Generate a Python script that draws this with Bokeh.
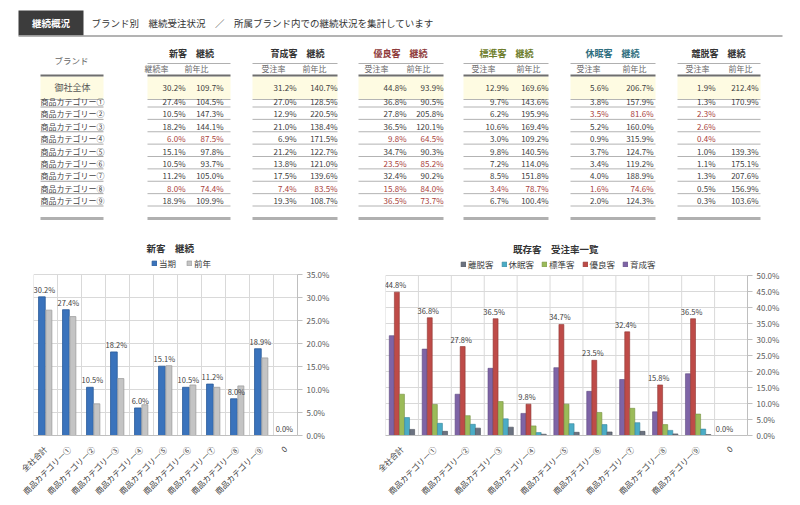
import math
from bokeh.plotting import figure
from bokeh.models import (ColumnDataSource, FactorRange, Range1d, FixedTicker,
                          NumeralTickFormatter, Legend, LegendItem, Label)
from bokeh.transform import dodge
from bokeh.layouts import column, row
from bokeh.embed import file_html
from bokeh.resources import INLINE
from bokeh.core.properties import value

FONT = "Noto Sans CJK JP"

# ---------------- data ----------------
chart_categories = ["全社合計", "商品カテゴリー①", "商品カテゴリー②", "商品カテゴリー③",
                    "商品カテゴリー④", "商品カテゴリー⑤", "商品カテゴリー⑥",
                    "商品カテゴリー⑦", "商品カテゴリー⑧", "商品カテゴリー⑨", "0"]
row_names = ["御社全体", "商品カテゴリー①", "商品カテゴリー②", "商品カテゴリー③",
             "商品カテゴリー④", "商品カテゴリー⑤", "商品カテゴリー⑥",
             "商品カテゴリー⑦", "商品カテゴリー⑧", "商品カテゴリー⑨"]
segment_titles = ["新客　継続", "育成客　継続", "優良客　継続", "標準客　継続", "休眠客　継続", "離脱客　継続"]
rate_headers = ["継続率", "受注率", "受注率", "受注率", "受注率", "受注率"]
yoy_header = "前年比"

new_rate = [30.2, 27.4, 10.5, 18.2, 6.0, 15.1, 10.5, 11.2, 8.0, 18.9]
new_yoy = [109.7, 104.5, 147.3, 144.1, 87.5, 97.8, 93.7, 105.0, 74.4, 109.9]
growth_rate = [31.2, 27.0, 12.9, 21.0, 6.9, 21.2, 13.8, 17.5, 7.4, 19.3]
growth_yoy = [140.7, 128.5, 220.5, 138.4, 171.5, 122.7, 121.0, 139.6, 83.5, 108.7]
loyal_rate = [44.8, 36.8, 27.8, 36.5, 9.8, 34.7, 23.5, 32.4, 15.8, 36.5]
loyal_yoy = [93.9, 90.5, 205.8, 120.1, 64.5, 90.3, 85.2, 90.2, 84.0, 73.7]
standard_rate = [12.9, 9.7, 6.2, 10.6, 3.0, 9.8, 7.2, 8.5, 3.4, 6.7]
standard_yoy = [169.6, 143.6, 195.9, 169.4, 109.2, 140.5, 114.0, 151.8, 78.7, 100.4]
dormant_rate = [5.6, 3.8, 3.5, 5.2, 0.9, 3.7, 3.4, 4.0, 1.6, 2.0]
dormant_yoy = [206.7, 157.9, 81.6, 160.0, 315.9, 124.7, 119.2, 188.9, 74.6, 124.3]
churn_rate = [1.9, 1.3, 2.3, 2.6, 0.4, 1.0, 1.1, 1.3, 0.5, 0.3]
churn_yoy = [212.4, 170.9, None, None, None, 139.3, 175.1, 207.6, 156.9, 103.6]

# 前年 bars of the 新客 chart
new_prev_year = [27.3, 25.9, 6.9, 12.4, 6.7, 15.2, 11.0, 10.5, 10.8, 16.9, 0.0]

table_rates = [new_rate, growth_rate, loyal_rate, standard_rate, dormant_rate, churn_rate]
table_yoys = [new_yoy, growth_yoy, loyal_yoy, standard_yoy, dormant_yoy, churn_yoy]
title_colors = ["#333333", "#333333", "#8E3B3B", "#6E7D2C", "#2F6F7F", "#333333"]

# ---------------- layout constants ----------------
group_left = [147, 252, 358, 463, 570, 677]
group_right = [230, 337, 443, 548, 655, 760]
col1_right = [185, 296, 406, 508, 608, 715]
col2_right = [223, 337, 443, 548, 653, 758]
sub1_center = [156, 273, 376, 483, 588, 697]
sub2_center = [196, 314, 418, 528, 634, 740]
title_center = [191, 297, 400, 506, 612, 718]
brand_l, brand_r = 40, 103
total_y = 87
row_y = [101 + 12.375 * i for i in range(9)]
RED = "#A8403A"
TXT = "#404040"

# ---------------- header + table ----------------
t = figure(width=800, height=232, x_range=Range1d(0, 800), y_range=Range1d(232, 0),
           x_axis_location=None, y_axis_location=None, min_border=0,
           output_backend="svg", toolbar_location=None)
t.grid.visible = False
t.outline_line_color = None


def txt(fig, xs, ys, texts, size="8px", color=TXT, align="left", bold=False):
    fig.text(x=xs, y=ys, text=texts, text_font=value(FONT), text_font_size=size,
             text_color=color, text_align=align, text_baseline="middle",
             text_font_style="bold" if bold else "normal")


def hline(fig, x0, x1, y, color, w, dash="solid"):
    fig.segment(x0=x0, y0=y, x1=x1, y1=y, line_color=color, line_width=w, line_dash=dash)


t.quad(left=[18], right=[83], top=[10], bottom=[35], fill_color="#3C3C3C", line_color=None)
hline(t, [18], [782], [35.5], "#9A9A9A", 1.5)
txt(t, [50.5], [22.5], ["継続概況"], size="9.5px", color="#FFFFFF", align="center", bold=True)
txt(t, [91], [22.5], ["ブランド別　継続受注状況　／　所属ブランド内での継続状況を集計しています"],
    size="9.5px", color="#333333")

# brand column
txt(t, [71], [59], ["ブランド"], size="8.5px", color="#666666", align="center")
t.quad(left=[brand_l], right=[brand_r], top=[76], bottom=[98.5], fill_color="#FEFBE2", line_color=None)
hline(t, [brand_l], [brand_r], [75], "#6E6E6E", 2)
hline(t, [brand_l], [brand_r], [99], "#B5B5B5", 1)
txt(t, [72], [total_y], [row_names[0]], size="9px", color="#555555", align="center")
txt(t, [brand_l] * 9, row_y, row_names[1:], size="8px", color="#444444")
hline(t, [brand_l] * 9, [brand_r] * 9, [y + 5.5 for y in row_y], "#8A8A8A", 0.8)
hline(t, [brand_l], [brand_r], [218], "#B0B0B0", 3)

for g in range(6):
    L, R = group_left[g], group_right[g]
    txt(t, [title_center[g]], [53], [segment_titles[g]], size="9px", color=title_colors[g],
        align="center", bold=True)
    hline(t, [L], [R], [63], "#B0B0B0", 1)
    txt(t, [sub1_center[g], sub2_center[g]], [68, 68], [rate_headers[g], yoy_header],
        size="8px", color="#666666", align="center")
    t.quad(left=[L], right=[R], top=[76], bottom=[98.5], fill_color="#FEFBE2", line_color=None)
    hline(t, [L], [R], [75], "#6E6E6E", 2)
    hline(t, [L], [R], [99], "#B5B5B5", 1)
    hline(t, [L] * 9, [R] * 9, [y + 5.5 for y in row_y], "#A0A0A0", 0.8)
    hline(t, [L], [R], [218], "#B0B0B0", 3)

    rates = table_rates[g]
    yoys = table_yoys[g]
    ys = [total_y] + row_y
    colors = [RED if (yy is None or yy < 90) else TXT for yy in yoys]
    colors[0] = TXT
    sizes = "8px"
    txt(t, [col1_right[g]] * 10, ys, [f"{v:.1f}%" for v in rates], size=sizes, color=colors, align="right")
    yoy_vals = [(y, c, f"{yy:.1f}%") for y, c, yy in zip(ys, colors, yoys) if yy is not None]
    txt(t, [col2_right[g]] * len(yoy_vals), [a[0] for a in yoy_vals], [a[2] for a in yoy_vals],
        size=sizes, color=[a[1] for a in yoy_vals], align="right")


# ---------------- chart helpers ----------------
def style_chart(p, ymax, step):
    p.outline_line_color = None
    p.xgrid.visible = False
    p.ygrid.grid_line_color = "#D9D9D9"
    ticks = [round(i * step, 4) for i in range(int(round(ymax / step)) + 1)]
    p.yaxis.ticker = FixedTicker(ticks=ticks)
    p.ygrid.ticker = FixedTicker(ticks=ticks)
    p.yaxis.bounds = (0, ymax)
    p.yaxis.formatter = NumeralTickFormatter(format="0.0%")
    p.yaxis.major_label_text_font = FONT
    p.yaxis.major_label_text_font_size = "8px"
    p.yaxis.major_label_text_color = "#595959"
    p.yaxis.axis_line_color = "#BFBFBF"
    p.yaxis.major_tick_line_color = "#BFBFBF"
    p.yaxis.major_tick_out = 5
    p.yaxis.major_tick_in = 0
    p.yaxis.minor_tick_line_color = None
    p.yaxis.major_label_standoff = 4
    p.xaxis.major_label_orientation = math.pi / 4
    p.xaxis.major_label_text_font = FONT
    p.xaxis.major_label_text_font_size = "8px"
    p.xaxis.major_label_text_color = "#404040"
    p.xaxis.axis_line_color = "#BFBFBF"
    p.xaxis.major_tick_line_color = None
    p.xaxis.major_label_standoff = 6


def boundaries(p, src, ymax):
    p.segment(x0=dodge("cat", -0.5, range=p.x_range), y0=0,
              x1=dodge("cat", -0.5, range=p.x_range), y1=ymax,
              source=src, line_color="#D9D9D9", line_width=1)


def make_legend(items, loc):
    lg = Legend(items=items, orientation="horizontal", location=loc,
                glyph_width=6, glyph_height=6, label_text_font=FONT,
                label_text_font_size="8.5px", label_text_color="#404040",
                border_line_color=None, background_fill_alpha=0,
                padding=0, margin=0, spacing=7, label_standoff=2, label_height=10)
    return lg


# ---------------- left chart: 新客 継続 ----------------
LEFT_MAX = 0.35
LEFT_TOP = LEFT_MAX * 199 / 164   # frame extends above the plotted area for title + legend
src1 = ColumnDataSource(dict(
    cat=chart_categories,
    cur=[v / 100 for v in new_rate + [0.0]],
    prev=[v / 100 for v in new_prev_year],
    lbl=[f"{v:.1f}%" for v in new_rate + [0.0]],
))
p1 = figure(x_range=FactorRange(factors=chart_categories), y_range=Range1d(0, LEFT_TOP),
            width=365, height=273, y_axis_location="right",
            min_border_left=33, min_border_right=68, min_border_top=8, min_border_bottom=66,
            output_backend="svg", toolbar_location=None)
style_chart(p1, LEFT_MAX, 0.05)
boundaries(p1, src1, LEFT_MAX)
r_cur = p1.vbar(x=dodge("cat", -0.15, range=p1.x_range), top="cur", width=0.28, source=src1,
                fill_color="#3A73BC", line_color="#2A5A98", line_width=0.8)
r_prev = p1.vbar(x=dodge("cat", 0.14, range=p1.x_range), top="prev", width=0.25, source=src1,
                 fill_color="#C4C4C4", line_color="#9E9E9E", line_width=0.8)
p1.text(x=dodge("cat", -0.05, range=p1.x_range), y="cur", text="lbl", source=src1,
        text_font=value(FONT), text_font_size="7.5px", text_color="#404040",
        text_align="center", text_baseline="bottom", y_offset=-2)
p1.add_layout(make_legend([LegendItem(label="当期", renderers=[r_cur]),
                           LegendItem(label="前年", renderers=[r_prev])], (118, 166)))
p1.add_layout(Label(x=5.7, y=LEFT_MAX * 191 / 164, text="新客　継続", text_align="center",
                    text_baseline="middle", text_font=FONT, text_font_size="9.5px",
                    text_font_style="bold", text_color="#333333"))

# ---------------- right chart: 既存客 受注率一覧 ----------------
RIGHT_MAX = 0.5
RIGHT_TOP = RIGHT_MAX * 195 / 160
series = [
    ("育成客", growth_rate, "#7E64A6", "#5E4A80"),
    ("優良客", loyal_rate, "#BE4B48", "#8F3533"),
    ("標準客", standard_rate, "#9BBB59", "#748E40"),
    ("休眠客", dormant_rate, "#4BACC6", "#35849A"),
    ("離脱客", churn_rate, "#6B7280", "#4A4F58"),
]
offsets = [-0.31, -0.155, 0.0, 0.155, 0.31]
data2 = dict(cat=chart_categories)
for i, (name, vals, _, _) in enumerate(series):
    data2[f"s{i}"] = [v / 100 for v in vals + [0.0]]
data2["lbl"] = [f"{v:.1f}%" for v in loyal_rate + [0.0]]
src2 = ColumnDataSource(data2)

p2 = figure(x_range=FactorRange(factors=chart_categories), y_range=Range1d(0, RIGHT_TOP),
            width=435, height=273, y_axis_location="right",
            min_border_left=20, min_border_right=53, min_border_top=8, min_border_bottom=70,
            output_backend="svg", toolbar_location=None)
style_chart(p2, RIGHT_MAX, 0.05)
boundaries(p2, src2, RIGHT_MAX)
rends = {}
for i, (name, vals, fc, lc) in enumerate(series):
    rends[name] = p2.vbar(x=dodge("cat", offsets[i], range=p2.x_range), top=f"s{i}", width=0.15,
                          source=src2, fill_color=fc, line_color=lc, line_width=0.6)
p2.text(x=dodge("cat", -0.2, range=p2.x_range), y="s1", text="lbl", source=src2,
        text_font=value(FONT), text_font_size="7.5px", text_color="#404040",
        text_align="center", text_baseline="bottom", y_offset=-2)
legend_order = ["離脱客", "休眠客", "標準客", "優良客", "育成客"]
p2.add_layout(make_legend([LegendItem(label=n, renderers=[rends[n]]) for n in legend_order], (75, 165)))
p2.add_layout(Label(x=5.17, y=RIGHT_MAX * 187 / 160, text="既存客　受注率一覧", text_align="center",
                    text_baseline="middle", text_font=FONT, text_font_size="9.5px",
                    text_font_style="bold", text_color="#333333"))

layout = column(t, row(p1, p2, spacing=0), spacing=0)
open("out.html", "w").write(file_html(layout, INLINE))
